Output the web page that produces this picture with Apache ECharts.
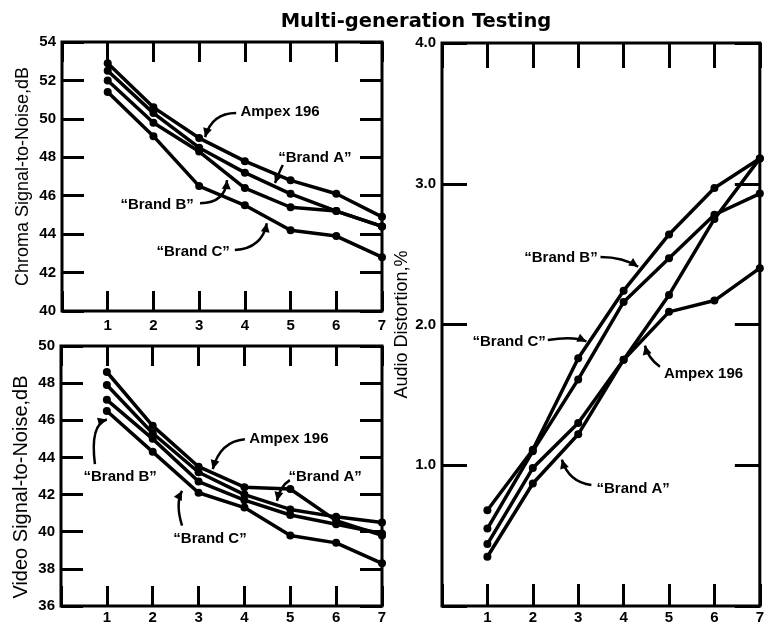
<!DOCTYPE html>
<html><head><meta charset="utf-8">
<script src="https://cdn.jsdelivr.net/npm/echarts@6/dist/echarts.min.js"></script>
<style>html,body{margin:0;padding:0;background:#fff}#c{width:767px;height:625px}</style>
</head><body><div id="c"></div>
<script>
// ---------- data ----------
const generations = [1, 2, 3, 4, 5, 6, 7];

const chromaAmpex  = [52.9, 50.6, 49.0, 47.8, 46.8, 46.1, 44.9];
const chromaBrandA = [52.5, 50.3, 48.5, 47.2, 46.1, 45.2, 44.4];
const chromaBrandB = [52.0, 49.8, 48.3, 46.4, 45.4, 45.2, 44.4];
const chromaBrandC = [51.4, 49.1, 46.5, 45.5, 44.2, 43.9, 42.8];

const videoAmpex  = [48.6, 45.7, 43.5, 42.4, 42.3, 40.6, 39.8];
const videoBrandA = [47.9, 45.3, 43.2, 42.0, 41.2, 40.8, 40.5];
const videoBrandB = [46.5, 44.3, 42.1, 41.3, 39.8, 39.4, 38.3];
const videoBrandC = [47.1, 45.0, 42.7, 41.7, 40.9, 40.4, 39.9];

const audioAmpex  = [0.44, 0.98, 1.30, 1.75, 2.09, 2.17, 2.40];
const audioBrandA = [0.35, 0.87, 1.22, 1.75, 2.21, 2.75, 3.18];
const audioBrandB = [0.68, 1.11, 1.76, 2.24, 2.64, 2.97, 3.18];
const audioBrandC = [0.55, 1.10, 1.61, 2.16, 2.47, 2.78, 2.93];

const chromaTicks = [40, 54, 2];
const videoTicks  = [36, 50, 2];
const audioTicks  = [0, 4, 1];

const titleText = 'Multi-generation Testing';
const chromaName = 'Chroma Signal-to-Noise,dB';
const videoName  = 'Video Signal-to-Noise,dB';
const audioName  = 'Audio Distortion,%';

// annotation: [grid, text, textX, textY, startX, startY, ctrlX, ctrlY, tipX, tipY] (data units)
const annotations = [
  [0, 'Ampex 196',  4.77, 50.35, 3.81, 50.30, 3.28, 50.30, 3.13, 49.05],
  [0, '“Brand A”', 5.53, 47.96, 4.83, 47.60, 4.77, 47.33, 4.66, 46.66],
  [0, '“Brand B”', 2.08, 45.51, 3.02, 45.61, 3.57, 45.61, 3.61, 46.81],
  [0, '“Brand C”', 2.87, 43.06, 3.78, 43.17, 4.38, 43.27, 4.48, 44.57],
  [1, 'Ampex 196',  4.97, 44.98, 4.01, 44.98, 3.47, 44.87, 3.31, 43.37],
  [1, '“Brand A”', 5.76, 42.94, 4.99, 42.78, 4.78, 42.46, 4.71, 41.66],
  [1, '“Brand B”', 1.29, 42.94, 0.74, 43.64, 0.63, 45.78, 1.00, 46.04],
  [1, '“Brand C”', 3.25, 39.63, 2.64, 40.33, 2.49, 41.50, 2.64, 42.20],
  [2, '“Brand B”', 2.62, 2.47, 3.49, 2.48, 3.99, 2.48, 4.32, 2.41],
  [2, '“Brand C”', 1.48, 1.88, 2.33, 1.89, 2.90, 1.92, 3.18, 1.88],
  [2, 'Ampex 196',  5.76, 1.65, 4.80, 1.70, 4.54, 1.76, 4.47, 1.85],
  [2, '“Brand A”', 4.21, 0.83, 3.29, 0.86, 2.79, 0.88, 2.64, 1.04]
];

// ---------- chart ----------
const FONT = '"Liberation Sans", Arial, Helvetica, sans-serif';
const chart = echarts.init(document.getElementById('c'), null, {renderer: 'canvas'});

const grids = [
  {left: 62, top: 42, width: 320, height: 269},
  {left: 61, top: 346, width: 321, height: 262},
  {left: 442, top: 43, width: 321, height: 566}
].map(g => Object.assign({show: true, borderColor: '#000', borderWidth: 3, backgroundColor: 'transparent'}, g));

const tickStyle = {color: '#000', width: 3};
const noLine = {show: false, onZero: false};
const xAxes = [], yAxes = [];
const xTickLen = [[20, 20], [20, 20], [25, 22]];
const yTickLen = [22, 22, 25];
const yInfo = [
  [chromaTicks, chromaName, 30, 18, [0, 0, 0, 0], v => String(v)],
  [videoTicks, videoName, 30, 20, [0, 22, 0, 0], v => String(v)],
  [audioTicks, audioName, 21, 18, [0, 0, 0, 0], v => v === 0 ? '' : v.toFixed(1)]
];
for (let g = 0; g < 3; g++) {
  xAxes.push({
    type: 'value', gridIndex: g, position: 'bottom', min: 0, max: 7, interval: 1,
    axisLine: noLine, splitLine: {show: false},
    axisTick: {show: true, inside: true, length: xTickLen[g][1], lineStyle: tickStyle},
    axisLabel: {show: true, color: '#000', fontFamily: FONT, fontWeight: 'bold', fontSize: 15,
      margin: g === 0 ? 7 : 4, formatter: v => (v === 0 ? '' : String(v))}
  });
  xAxes.push({
    type: 'value', gridIndex: g, position: 'top', min: 0, max: 7, interval: 1,
    axisLine: noLine, splitLine: {show: false},
    axisTick: {show: true, inside: true, length: xTickLen[g][0], lineStyle: tickStyle},
    axisLabel: {show: false}
  });
  const [t, name, gap, fs, pad, fmt] = yInfo[g];
  yAxes.push({
    type: 'value', gridIndex: g, position: 'left', min: t[0], max: t[1], interval: t[2],
    name: name, nameLocation: 'middle', nameGap: gap,
    nameTextStyle: {color: '#000', fontFamily: FONT, fontSize: fs, padding: pad},
    axisLine: noLine, splitLine: {show: false},
    axisTick: {show: true, inside: true, length: yTickLen[g], lineStyle: tickStyle},
    axisLabel: {color: '#000', fontFamily: FONT, fontWeight: 'bold', fontSize: 15, margin: 6, formatter: fmt}
  });
  yAxes.push({
    type: 'value', gridIndex: g, position: 'right', min: t[0], max: t[1], interval: t[2],
    axisLine: noLine, splitLine: {show: false},
    axisTick: {show: true, inside: true, length: yTickLen[g], lineStyle: tickStyle},
    axisLabel: {show: false}
  });
}

function mkSeries(name, g, arr) {
  return {
    name: name, type: 'line', xAxisIndex: g * 2, yAxisIndex: g * 2,
    data: generations.map((x, i) => [x, arr[i]]),
    symbol: 'circle', symbolSize: 8, showSymbol: true,
    lineStyle: {color: '#000', width: 3.5}, itemStyle: {color: '#000'},
    clip: false, animation: false, silent: true
  };
}
const series = [
  mkSeries('Ampex 196', 0, chromaAmpex), mkSeries('Brand A', 0, chromaBrandA),
  mkSeries('Brand B', 0, chromaBrandB), mkSeries('Brand C', 0, chromaBrandC),
  mkSeries('Ampex 196', 1, videoAmpex), mkSeries('Brand A', 1, videoBrandA),
  mkSeries('Brand B', 1, videoBrandB), mkSeries('Brand C', 1, videoBrandC),
  mkSeries('Ampex 196', 2, audioAmpex), mkSeries('Brand A', 2, audioBrandA),
  mkSeries('Brand B', 2, audioBrandB), mkSeries('Brand C', 2, audioBrandC)
];

chart.setOption({
  animation: false,
  backgroundColor: '#fff',
  title: {text: titleText, left: 411, top: 7, textAlign: 'center',
    textStyle: {color: '#000', fontFamily: '"DejaVu Sans", sans-serif', fontWeight: 'bold', fontSize: 19.5}},
  grid: grids, xAxis: xAxes, yAxis: yAxes, series: series
});

// annotations (labels + curved arrows) positioned via the axes
const graphics = [];
annotations.forEach(a => {
  const g = a[0];
  const f = p => chart.convertToPixel({xAxisIndex: g * 2, yAxisIndex: g * 2}, p);
  const t = f([a[2], a[3]]), s = f([a[4], a[5]]), c = f([a[6], a[7]]), e = f([a[8], a[9]]);
  graphics.push({type: 'text', x: t[0], y: t[1], silent: true,
    style: {text: a[1], fill: '#000', font: 'bold 15px ' + FONT, textAlign: 'center', textVerticalAlign: 'middle'}});
  graphics.push({type: 'bezierCurve', silent: true,
    shape: {x1: s[0], y1: s[1], x2: e[0], y2: e[1], cpx1: c[0], cpy1: c[1]},
    style: {stroke: '#000', lineWidth: 2.5, fill: null}});
  const dx = e[0] - c[0], dy = e[1] - c[1], L = Math.hypot(dx, dy) || 1;
  const ux = dx / L, uy = dy / L, hl = 9, hw = 4.5;
  const bx = e[0] - ux * hl, by = e[1] - uy * hl;
  graphics.push({type: 'polygon', silent: true,
    shape: {points: [[e[0], e[1]], [bx - uy * hw, by + ux * hw], [bx + uy * hw, by - ux * hw]]},
    style: {fill: '#000'}});
});
chart.setOption({graphic: graphics});
</script>
</body></html>
